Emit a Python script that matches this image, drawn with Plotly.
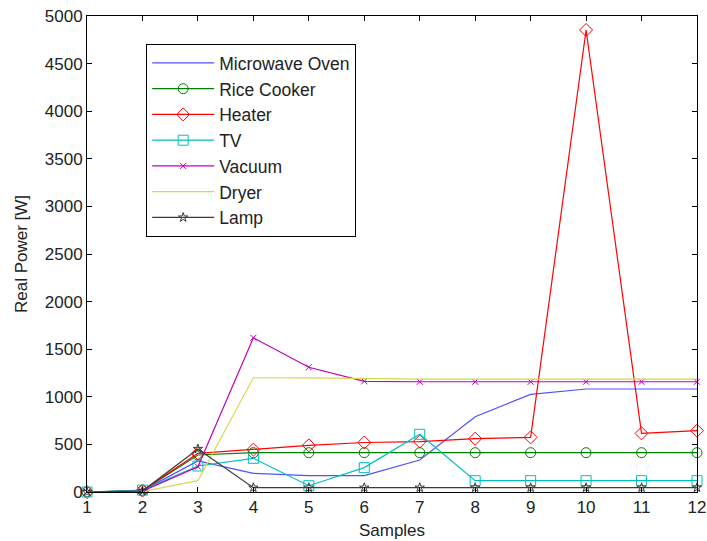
import plotly.graph_objects as go

samples = list(range(1, 13))
microwave = [0, 15, 326, 196, 172, 172, 336, 791, 1026, 1082, 1082, 1082]
rice_cooker = [0, 15, 389, 413, 413, 413, 413, 413, 413, 413, 413, 413]
heater = [0, 15, 406, 445, 490, 520, 530, 560, 574, 4853, 616, 644]
tv = [0, 20, 273, 354, 66, 256, 606, 119, 119, 119, 119, 119]
vacuum = [0, 10, 266, 1620, 1310, 1163, 1158, 1158, 1158, 1158, 1158, 1158]
dryer = [0, 5, 119, 1200, 1198, 1190, 1186, 1185, 1185, 1185, 1185, 1185]
lamp = [0, 10, 452, 46, 46, 46, 46, 46, 46, 46, 46, 46]

series = [
    ("Microwave Oven", microwave, "rgb(80,80,255)", None, 0),
    ("Rice Cooker", rice_cooker, "rgb(0,128,0)", "circle-open", 10),
    ("Heater", heater, "rgb(255,0,0)", "diamond-open", 10),
    ("TV", tv, "rgb(0,191,191)", "square-open", 10),
    ("Vacuum", vacuum, "rgb(191,0,191)", "x-thin-open", 6),
    ("Dryer", dryer, "rgb(215,215,80)", None, 0),
    ("Lamp", lamp, "rgb(60,60,60)", "star-open", 7),
]

fig = go.Figure()
for name, vals, color, sym, size in series:
    mode = "lines+markers" if sym else "lines"
    kw = {}
    if sym:
        kw["marker"] = dict(symbol=sym, size=size, color=color,
                            line=dict(color=color, width=1))
    fig.add_trace(go.Scatter(
        x=samples, y=vals, name=name, mode=mode, legendgroup=name,
        line=dict(color=color, width=1.2), cliponaxis=False, **kw))

axis_common = dict(
    showgrid=False, zeroline=False, showline=True, linecolor="black",
    linewidth=1, mirror="ticks", ticks="inside", ticklen=5,
    tickcolor="black", tickfont=dict(size=17, color="#222"),
    ticklabeloverflow="allow", automargin=False,
)
fig.update_xaxes(range=[1, 12], tickmode="array", tickvals=samples,
                 title=dict(text="Samples", font=dict(size=17, color="#222"),
                            standoff=7),
                 **axis_common)
fig.update_yaxes(range=[0, 5000], tickmode="linear", tick0=0, dtick=500,
                 title=dict(text="Real Power [W]", font=dict(size=17, color="#222"),
                            standoff=12),
                 **axis_common)

fig.update_layout(
    width=707, height=541,
    margin=dict(l=87, r=10, t=16, b=49, autoexpand=False),
    paper_bgcolor="white", plot_bgcolor="white",
    font=dict(family="Liberation Sans, Arial, sans-serif", size=17, color="#222"),
    legend=dict(x=0.097, y=0.941, xanchor="left", yanchor="top",
                bordercolor="black", borderwidth=1, bgcolor="white",
                font=dict(size=17.5), tracegroupgap=0, traceorder="grouped",
                itemwidth=62),
)

fig.write_html(
    "out.html",
    config={"displayModeBar": False},
    post_script="document.body.style.margin='0';document.body.style.overflow='hidden';",
)
